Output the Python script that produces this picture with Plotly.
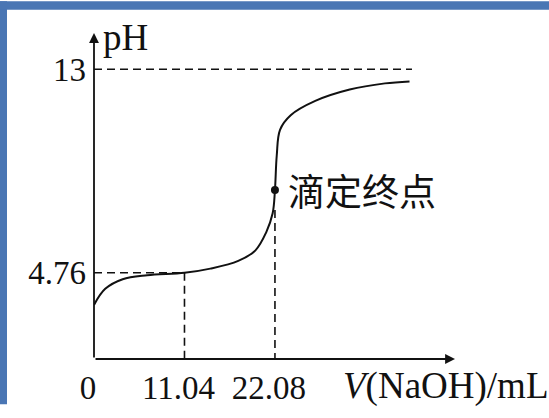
import plotly.graph_objects as go

# ---- data ----
volume_ml = [0, 1.37, 3.5, 6.5, 11.04, 14.2, 17.6, 19.7, 21.0, 21.8, 22.08, 22.3, 22.7, 24.0, 27.0, 31.2, 35.5, 38.5]
ph_values = [3.46, 4.11, 4.50, 4.66, 4.76, 4.93, 5.24, 5.67, 6.39, 7.17, 8.11, 9.51, 10.55, 11.14, 11.72, 12.18, 12.43, 12.51]
endpoint = (22.08, 8.11)
endpoint_label = "滴定终点"
half_eq_v = 11.04
eq_v = 22.08
pka_ph = 4.76
ph_max = 13
x_tick_labels = ["0", "11.04", "22.08"]
x_tick_vals = [0, 11.04, 22.08]
y_tick_labels = ["13", "4.76"]
y_tick_vals = [13, 4.76]

X_MIN, X_MAX = 0, 44.05
Y_MIN, Y_MAX = 1.27, 14.47
W, H = 549, 418
ML, MR, MT, MB = 94, 94, 33, 47

serif = "Liberation Serif, Times New Roman, serif"
BLACK = "#111111"
BLUE = "#4a76b4"

fig = go.Figure()
fig.add_trace(go.Scatter(x=volume_ml, y=ph_values, mode="lines",
                         line=dict(color=BLACK, width=2, shape="spline", smoothing=1.0),
                         hoverinfo="skip", showlegend=False, cliponaxis=False))
fig.add_trace(go.Scatter(x=[endpoint[0]], y=[endpoint[1]], mode="markers",
                         marker=dict(color=BLACK, size=8), showlegend=False, cliponaxis=False))

dash = "8px,5px"
shapes = [
    dict(type="line", x0=0, x1=38.8, y0=ph_max, y1=ph_max, xref="x", yref="y",
         line=dict(color=BLACK, width=1.6, dash=dash)),
    dict(type="line", x0=0, x1=half_eq_v, y0=pka_ph, y1=pka_ph, xref="x", yref="y",
         line=dict(color=BLACK, width=1.6, dash=dash)),
    dict(type="line", x0=half_eq_v, x1=half_eq_v, y0=pka_ph, y1=Y_MIN, xref="x", yref="y",
         line=dict(color=BLACK, width=1.6, dash=dash)),
    dict(type="line", x0=eq_v, x1=eq_v, y0=7.3, y1=Y_MIN, xref="x", yref="y",
         line=dict(color=BLACK, width=1.6, dash=dash)),
]

# blue frame on top and left (pixel -> paper)
pw, ph_ = W - ML - MR, H - MT - MB
def px_x(p):
    return (p - ML) / pw
def px_y(p):
    return (H - MB - p) / ph_
shapes.append(dict(type="rect", xref="paper", yref="paper", x0=px_x(0), x1=px_x(7),
                   y0=px_y(H), y1=px_y(0), fillcolor=BLUE, line=dict(width=0), layer="above"))
shapes.append(dict(type="rect", xref="paper", yref="paper", x0=px_x(0), x1=px_x(W),
                   y0=px_y(9), y1=px_y(0), fillcolor=BLUE, line=dict(width=0), layer="above"))

annotations = []
# axes with arrows
annotations.append(dict(x=0, y=Y_MAX, ax=0, ay=Y_MIN, xref="x", yref="y", axref="x", ayref="y",
                        text="", showarrow=True, arrowhead=2, arrowsize=1.1, arrowwidth=1.8,
                        arrowcolor=BLACK))
annotations.append(dict(x=X_MAX, y=Y_MIN, ax=0, ay=Y_MIN, xref="x", yref="y", axref="x", ayref="y",
                        text="", showarrow=True, arrowhead=2, arrowsize=1.1, arrowwidth=1.8,
                        arrowcolor=BLACK))

font_num = dict(family=serif, size=33, color=BLACK)
annotations.append(dict(x=30.1, y=px_y(399), xref="x", yref="paper", text="<i>V</i>(NaOH)/mL",
                        showarrow=False, xanchor="left", yanchor="middle",
                        font=dict(family=serif, size=37, color=BLACK)))
annotations.append(dict(x=0.8, y=14.3, xref="x", yref="y", text="pH",
                        showarrow=False, xanchor="left", yanchor="middle",
                        font=dict(family=serif, size=37, color=BLACK)))
annotations.append(dict(x=23.4, y=endpoint[1], xref="x", yref="y", text=endpoint_label,
                        showarrow=False, xanchor="left", yanchor="middle",
                        font=dict(family="Noto Sans CJK SC", size=37, color=BLACK)))

axis_common = dict(showgrid=False, zeroline=False, showline=False, ticks="", fixedrange=True)
fig.update_layout(
    width=W, height=H,
    margin=dict(l=ML, r=MR, t=MT, b=MB, pad=0),
    paper_bgcolor="white", plot_bgcolor="white",
    xaxis=dict(range=[X_MIN, X_MAX], tickmode="array", tickvals=x_tick_vals, ticktext=x_tick_labels,
               tickfont=font_num, ticklabelstandoff=6, ticklabelshift=-6, **axis_common),
    yaxis=dict(range=[Y_MIN, Y_MAX], tickmode="array", tickvals=y_tick_vals, ticktext=y_tick_labels,
               tickfont=font_num, ticklabelstandoff=7, **axis_common),
    shapes=shapes, annotations=annotations, showlegend=False,
)
fig.write_html("out.html", config={"displayModeBar": False},
               post_script="document.body.style.margin='0';document.body.style.overflow='hidden';")
